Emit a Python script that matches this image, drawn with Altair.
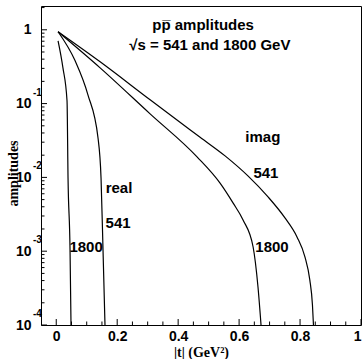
import altair as alt
import pandas as pd

# ---- curve data (|t| in GeV^2, amplitude) ----
imag541_t = [0.006, 0.144, 0.308, 0.472, 0.554, 0.629, 0.695, 0.7505, 0.790, 0.816, 0.832, 0.8407, 0.844]
imag541_a = [0.94, 0.368, 0.1125, 0.0350, 0.01956, 0.01048, 0.00544, 0.002825, 0.00156, 0.000836,
             0.000408, 0.000187, 0.0001]

imag1800_t = [0.006, 0.144, 0.308, 0.462, 0.537, 0.580, 0.613, 0.646, 0.662, 0.672]
imag1800_a = [0.94, 0.305, 0.0726, 0.01897, 0.00841, 0.00451, 0.00265, 0.00114, 0.000327, 0.0001]

real541_t = [0.006, 0.062, 0.104, 0.137, 0.147, 0.1535, 0.160]
real541_a = [0.94, 0.380, 0.1315, 0.0344, 0.00984, 0.00104, 0.0001]

real1800_t = [0.006, 0.022, 0.0354, 0.0387, 0.0453, 0.0485]
real1800_a = [0.71, 0.305, 0.109, 0.00984, 0.00104, 0.0001]

# ---- axis ticks ----
X_MAJOR = [0.0, 0.2, 0.4, 0.6, 0.8, 1.0]
X_MINOR = [0.05, 0.1, 0.15, 0.25, 0.3, 0.35, 0.45, 0.5, 0.55, 0.65, 0.7, 0.75, 0.85, 0.9, 0.95]
Y_MAJOR = [1e-4, 1e-3, 1e-2, 1e-1, 1.0]
Y_MINOR = [m * d for d in [1e-4, 1e-3, 1e-2, 1e-1] for m in range(2, 10)] + [2.0]
EXP_VALUES = [1e-1, 1e-2, 1e-3, 1e-4]
EXP_LABELS = ["-1", "-2", "-3", "-4"]

# ---- annotations ----
ann_text = ["pp\u0305 amplitudes", "\u221as = 541 and 1800 GeV", "imag", "541", "1800", "real", "541", "1800"]
ann_t = [0.482, 0.504, 0.678, 0.688, 0.708, 0.206, 0.203, 0.098]
ann_a = [1.17, 0.626, 0.0354, 0.0115, 0.00114, 0.00721, 0.00242, 0.00114]

rows = []
for name, ts, amps in [("imag541", imag541_t, imag541_a), ("imag1800", imag1800_t, imag1800_a),
                       ("real541", real541_t, real541_a), ("real1800", real1800_t, real1800_a)]:
    for i, (t, a) in enumerate(zip(ts, amps)):
        rows.append({"series": name, "t": t, "amp": a, "order": i})
curves = pd.DataFrame(rows)

SANS = "Liberation Sans"
SERIF = "Liberation Serif"

xscale = alt.Scale(domain=[-0.05, 1.0], nice=False, zero=False)
yscale = alt.Scale(type="log", domain=[1e-4, 2.1], nice=False)

xaxis = alt.Axis(values=X_MAJOR,
                 labelExpr="datum.value == 0 ? '0' : (datum.value >= 0.999 ? '1' : format(datum.value, '.1f'))",
                 labelAlign={"condition": {"test": "datum.value >= 0.999", "value": "right"}, "value": "center"},
                 tickSize=0, domain=False, grid=False, labelFlush=False, labelOverlap=False,
                 labelFont=SANS, labelFontWeight="bold", labelFontSize=14, labelColor="black",
                 labelPadding=4,
                 title="|t| (GeV\u00b2)", titleFont=SERIF, titleFontWeight="bold", titleFontSize=14,
                 titleColor="black", titleY=27, titleBaseline="middle")
yaxis = alt.Axis(values=Y_MAJOR, labelExpr="datum.value > 0.5 ? '1' : '10'",
                 tickSize=0, domain=False, grid=False, labelOverlap=False, labelFlush=False,
                 labelFont=SANS, labelFontWeight="bold", labelFontSize=14, labelColor="black",
                 labelPadding=10,
                 title="amplitudes", titleFont=SERIF, titleFontWeight="bold", titleFontSize=14,
                 titleColor="black", titleAngle=-90, titleX=-28, titleY=167,
                 titleAlign="center", titleBaseline="middle")

X = alt.X("t:Q", scale=xscale, axis=xaxis)
Y = alt.Y("amp:Q", scale=yscale, axis=yaxis)

lines = alt.Chart(curves).mark_line(color="black", strokeWidth=1.2, clip=True,
                                    interpolate="monotone").encode(
    x=X, y=Y, detail="series:N", order="order:Q")

xmaj = alt.Chart(pd.DataFrame({"t": X_MAJOR})).mark_rule(color="black").encode(
    x=X, y=alt.value(319), y2=alt.value(313))
xmin = alt.Chart(pd.DataFrame({"t": X_MINOR})).mark_rule(color="black").encode(
    x=X, y=alt.value(319), y2=alt.value(315.5))
ymaj = alt.Chart(pd.DataFrame({"amp": Y_MAJOR})).mark_rule(color="black").encode(
    y=Y, x=alt.value(0), x2=alt.value(6))
ymin = alt.Chart(pd.DataFrame({"amp": Y_MINOR})).mark_rule(color="black").encode(
    y=Y, x=alt.value(0), x2=alt.value(3.5))

exps = alt.Chart(pd.DataFrame({"amp": EXP_VALUES, "label": EXP_LABELS})).mark_text(
    align="left", baseline="middle", dy=-11, fontSize=10, fontWeight="bold", font=SANS, color="black"
).encode(x=alt.value(-8), y=Y, text="label:N")

ann = alt.Chart(pd.DataFrame({"t": ann_t, "amp": ann_a, "label": ann_text})).mark_text(
    align="center", baseline="middle", fontSize=15, fontWeight="bold", font=SANS, color="black"
).encode(x=X, y=Y, text="label:N")

chart = alt.layer(lines, xmaj, xmin, ymaj, ymin, exps, ann).properties(
    width=320, height=319,
    padding={"left": 41, "top": 6, "right": 1, "bottom": 34},
    autosize="none",
    background="white",
).configure_view(stroke="black", strokeWidth=1)

chart.save("out.html", embed_options={"renderer": "svg", "actions": False})
